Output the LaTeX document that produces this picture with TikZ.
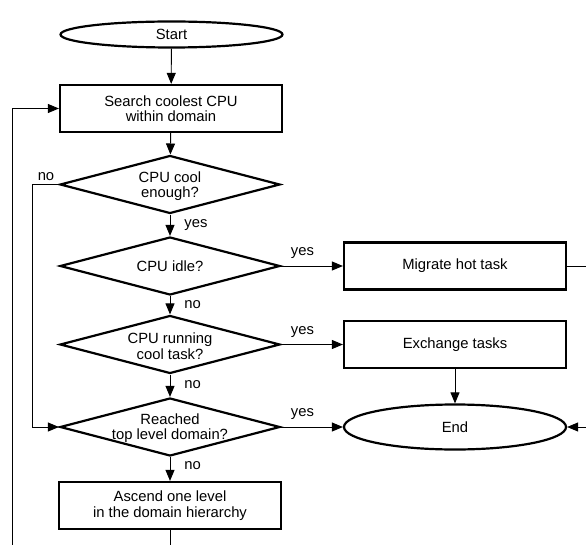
\documentclass[tikz,border=0pt]{standalone}
\usepackage{fontspec}
\setmainfont{Liberation Sans}
\usetikzlibrary{shapes.geometric,arrows.meta}
\begin{document}
\begin{tikzpicture}[x=1bp,y=-1bp,
 font=\fontsize{14.8bp}{15.5bp}\selectfont,
 shapeline/.style={draw=black,line width=2.2bp},
 box/.style={shapeline,rectangle,minimum width=222bp,minimum height=47bp,inner sep=0pt,align=center},
 term/.style={shapeline,ellipse,minimum width=222bp,inner sep=0pt},
 dec/.style={shapeline,diamond,minimum width=220bp,minimum height=58bp,inner sep=0pt},
 dtext/.style={align=center,inner sep=0pt},
 conn/.style={line width=0.9bp,-{Triangle[length=11bp,width=9bp]}},
 plain/.style={line width=0.9bp},
 lbl/.style={inner sep=0pt}
]
\useasboundingbox (0,0) rectangle (586,545);
\clip (0,0) rectangle (586,545);
% nodes
\node[term,minimum height=26bp] (start) at (171.5,34.5) {Start};
\node[box] (search) at (171,108.5) {Search coolest CPU\\within domain};
\node[dec] (d1) at (170,184.5) {};
\node[dtext] (d1t) at (170,186) {CPU cool\\enough?};
\node[dec] (d2) at (170,266) {};
\node[dtext] (d2t) at (170,266) {CPU idle?};
\node[dec] (d3) at (170,344.5) {};
\node[dtext] (d3t) at (170,346) {CPU running\\cool task?};
\node[dec] (d4) at (170,427) {};
\node[dtext] (d4t) at (170,428) {Reached\\top level domain?};
\node[box] (asc) at (170,505.5) {Ascend one level\\in the domain hierarchy};
\node[box] (mig) at (455,266) {Migrate hot task};
\node[box] (exch) at (455,344.5) {Exchange tasks};
\node[term,minimum height=45bp] (end) at (455,427) {End};
% helper coordinates
\coordinate (nl) at (32,0);
\coordinate (lb) at (12,570);
\coordinate (rc) at (610,0);
% connectors
\draw[conn] (start) -- (search);
\draw[conn] (search) -- (d1);
\draw[conn] (d1) -- (d2);
\draw[conn] (d2) -- (d3);
\draw[conn] (d3) -- (d4);
\draw[conn] (d4) -- (asc);
\draw[conn] (d2.east) -- (mig.west);
\draw[conn] (d3.east) -- (exch.west);
\draw[conn] (d4.east) -- (end.west);
\draw[conn] (exch) -- (end);
\draw[conn] (d1.west) -- (d1.west -| nl) |- (d4.west);
\draw[conn] (asc.south) -- (asc.south |- lb) -- (lb) |- (search.west);
\draw[conn] (mig.east) -- (mig.east -| rc) |- (end.east);
% labels
\node[lbl] (l1) at (46,177) {no};
\node[lbl] (l2) at (196,225) {yes};
\node[lbl] (l3) at (192.5,305) {no};
\node[lbl] (l4) at (192.5,385) {no};
\node[lbl] (l5) at (192.5,466) {no};
\node[lbl] (l6) at (302.5,253) {yes};
\node[lbl] (l7) at (302.5,332) {yes};
\node[lbl] (l8) at (302.5,414) {yes};
\end{tikzpicture}
\end{document}
